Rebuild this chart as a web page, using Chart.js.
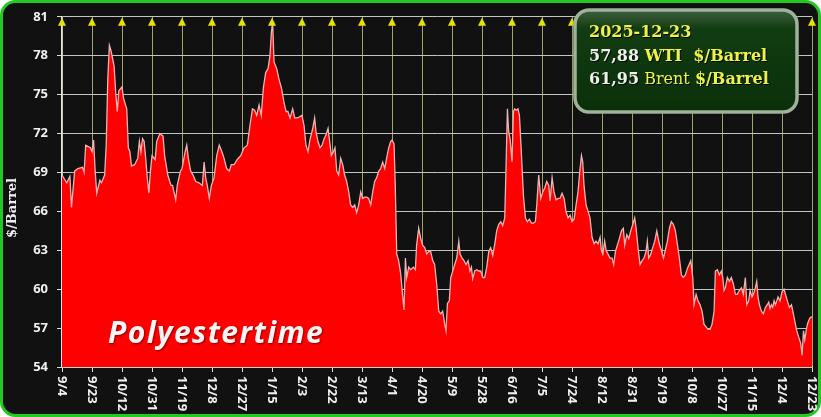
<!DOCTYPE html>
<html>
<head>
<meta charset="utf-8">
<script src="https://cdn.jsdelivr.net/npm/chart.js@4.4.1/dist/chart.umd.min.js"></script>
<style>
  html,body{margin:0;padding:0;background:#fff;}
  canvas{display:block;}
</style>
</head>
<body>
<canvas id="oil" width="821" height="417"></canvas>
<script>
/* WTI crude, $/barrel. x = days since 2024-09-04 */
const dayIdx = [
  0,2,3,5,6,8,10,13,14,15,
  18,19,20,21,22,24,25,27,28,29,
  30,31,33,34,35,36,38,39,41,42,
  43,44,46,48,49,50,51,52,53,54,
  55,56,57,59,60,62,64,65,67,69,
  70,72,73,75,76,78,
  79,80,81.5,83,84.7,86.8,88.9,90,91,92,
  93.3,94.6,96.3,98,99.6,101.3,102.6,104.3,106,107.2,
  109,111,113.2,115.3,117.4,119,120.6,122,123.3,124.8,
  126.2,127.5,129,130.5,131.7,132.6,133.4,134.3,136,137.4,
  139,140.6,141.9,143.1,144.4,146.1,147.4,149,150.7,152,
  153.3,154.5,155.8,157,
  158.8,160,160.9,162.1,163.4,164.7,166,167.2,168.5,169.3,
  170.6,171.9,172.9,174,175.2,176.5,177.8,179,180.3,181.6,
  182.8,184.1,185.4,186.6,187.9,189.2,190.4,191.7,193,194.2,
  195.5,196.8,198,199.3,200.6,201.8,203.1,204.4,205.6,206.9,
  208.2,209,210.3,211.1,212,213.2,214.5,215.8,216.6,217.5,
  218.3,219.6,220.8,222.5,223.8,224.6,225.9,227.2,228.4,229.7,
  231,232.2,233.5,234.8,236,237.3,
  238.6,239.9,241.1,242.4,243.2,244.1,245.3,246.2,247.5,248.7,
  250,251.3,252.1,253.4,254.6,255.9,257.2,258.4,259.3,260.1,
  261.4,262.7,263.9,265.2,266.5,267.7,269,270.3,271.5,272.8,
  274.1,275.3,276.6,277.9,279.1,280.4,281.2,282.1,282.9,283.8,
  285,285.9,286.7,287.6,288.8,289.7,290.9,292.2,293.5,294.7,
  296,297.3,298.5,299.8,300.7,301.9,303.2,304.5,305.7,307,
  308.3,309.1,310.4,311.6,312.9,314.2,315.4,316.7,
  318,319.2,320.5,321.8,323,324.3,325.6,326.8,328.1,329,
  329.8,330.6,331.9,333.2,334.4,335.7,337,338.2,339.5,340.8,
  341.6,342.5,343.7,344.6,345.8,347.1,348.4,349.4,350.5,351.7,
  353,354.3,355.5,356.4,357.7,358.9,360.2,361.5,362.7,363.6,
  364.8,366.1,367.4,368.6,369.9,370.7,371.6,372.9,374.1,375.4,
  376.7,377.5,378.3,379.6,380.9,382.1,383.4,384.7,385.9,387.2,
  388.5,389.7,391,392.3,393.5,394.8,396.1,
  398.2,399.5,400.3,401.6,402.8,404.1,405.4,406.6,407.9,409.2,
  410.4,411.7,413,413.8,415.1,416.3,417.6,418.5,419.3,420.1,
  421.4,422.7,423.9,425.2,426.5,427.7,429,430.3,431.5,432.8,
  433.7,434.9,435.8,437,437.9,439.1,440,440.8,441.7,443,
  444.2,445.5,446.7,447.6,448.4,449.3,450.1,451,451.8,452.7,
  453.5,454.8,456,457.3,458.2,459.4,460.7,462,463.2,464.5,
  465.3,466.6,467.9,468.7,469.6,470.4,471.3,472.1,473,473.8,
  475
];
const wti = [
  68.8,68.4,68.2,68.7,66.3,69.1,69.3,69.4,69.0,71.1,
  70.9,70.6,71.5,69.1,67.4,68.4,68.2,68.8,71.1,76.2,
  78.8,78.4,77.2,75.2,73.7,75.3,75.6,74.7,73.9,70.9,
  70.6,69.5,69.6,70.1,71.4,70.6,71.6,71.4,70.1,68.6,
  67.4,69.1,70.3,70.0,71.4,72.0,71.8,70.3,68.8,68.0,
  68.0,66.9,68.0,69.1,69.3,70.6,
  71.1,70.1,69.1,68.8,68.3,68.2,68.0,69.8,68.6,68.0,
  67.0,68.0,68.6,70.3,71.1,70.6,70.1,69.3,69.1,69.6,
  69.6,70.0,70.3,70.9,71.1,72.6,73.9,73.8,73.4,74.2,
  73.4,75.5,76.7,77.0,78.0,79.8,80.6,77.5,77.0,76.2,
  75.5,74.4,73.7,73.7,73.2,73.9,73.2,73.2,73.3,73.4,
  72.6,71.1,70.6,71.5,
  72.4,73.2,72.1,71.4,70.9,71.1,71.6,71.9,72.4,71.6,
  70.3,70.6,70.9,69.1,68.8,70.1,69.6,68.8,68.3,67.5,
  66.5,66.3,66.5,65.9,66.5,67.5,67.0,67.1,67.1,67.0,
  66.5,67.5,68.3,68.6,69.1,69.3,69.8,69.3,70.1,70.9,
  71.4,71.5,71.2,67.8,62.7,62.2,61.2,59.4,58.4,62.4,
  60.9,61.7,61.5,61.7,61.5,63.4,64.7,63.9,63.4,63.2,
  62.7,62.9,62.9,62.2,61.9,60.4,
  58.3,58.1,58.3,57.3,56.8,58.9,59.1,60.9,61.4,61.9,
  62.4,63.7,62.7,62.4,62.2,61.9,62.2,61.4,61.7,60.8,
  61.4,61.5,61.4,61.4,60.9,60.9,61.7,62.9,63.2,62.6,
  63.5,64.5,65.0,65.2,64.9,65.5,69.3,73.9,72.1,71.6,
  69.8,73.7,73.9,73.8,73.9,73.4,70.6,67.3,65.5,65.2,
  65.4,65.1,65.1,65.2,66.5,68.8,67.0,67.5,67.8,68.3,
  68.0,66.8,68.6,67.5,66.9,67.0,67.0,67.4,
  67.0,66.0,65.5,65.7,65.2,65.4,66.5,67.5,69.3,70.3,
  69.8,68.0,66.5,66.0,65.5,64.0,63.5,63.7,63.5,64.0,
  63.0,62.7,63.7,63.0,62.7,62.4,62.4,61.9,62.9,63.4,
  63.9,64.5,64.7,63.4,64.2,63.9,64.5,65.0,65.5,64.7,
  63.2,61.9,62.2,62.4,62.9,63.7,62.4,62.7,63.2,63.7,
  64.5,64.0,63.5,63.0,62.4,63.0,63.7,64.7,65.2,65.0,
  64.5,63.5,62.4,61.1,60.9,61.1,61.6,
  62.2,60.9,58.8,59.6,59.1,58.8,58.3,57.3,57.1,56.9,
  56.9,57.3,58.3,61.4,61.5,61.1,61.4,60.9,59.9,60.1,
  60.9,60.6,60.9,60.4,59.6,59.6,59.9,60.1,59.6,60.9,
  58.8,59.1,59.9,59.4,59.6,60.1,60.6,59.4,58.8,58.3,
  58.1,58.6,58.8,59.0,58.5,58.8,58.6,59.1,58.8,59.1,
  59.4,59.1,59.8,60.0,59.6,59.1,58.6,58.8,58.1,57.3,
  56.8,56.3,55.8,54.9,56.8,56.1,56.8,57.3,57.6,57.8,
  57.88
];

const tickDays = [0,19,38,57,76,95,114,133,152,171,190,209,228,247,266,285,304,323,342,361,380,399,418,437,456,475];
const tickLabels = ['9/4','9/23','10/12','10/31','11/19','12/8','12/27','1/15','2/3','2/22','3/13','4/1','4/20','5/9','5/28','6/16','7/5','7/24','8/12','8/31','9/19','10/8','10/27','11/15','12/4','12/23'];
const yMin = 54, yMax = 81, yStep = 3;

const boxDate = '2025-12-23';
const wtiLast = '57,88';
const brentLast = '61,95';
const yTitle = '$/Barrel';
const watermark = 'Polyestertime';

const SERIF = '"DejaVu Serif", serif';

/* frame, triangles, rotated x labels, watermark, info box */
const deco = {
  id: 'deco',
  beforeDraw(chart){
    const c = chart.ctx, W = chart.width, H = chart.height;
    c.save();
    c.fillStyle = '#fff';
    c.fillRect(0, 0, W, H);
    c.beginPath();
    c.roundRect(1.5, 1.5, W-3, H-3, 14);
    c.fillStyle = '#111';
    c.fill();
    c.lineWidth = 3;
    c.strokeStyle = '#23c823';
    c.stroke();
    c.restore();
  },
  afterDraw(chart){
    const c = chart.ctx, xs = chart.scales.x;
    const {top, bottom} = chart.chartArea;
    c.save();

    // yellow markers on each vertical grid line
    c.fillStyle = '#e4e400';
    tickDays.forEach(d => {
      const x = xs.getPixelForValue(d);
      c.beginPath();
      c.moveTo(x, top+1);
      c.lineTo(x+4, top+9);
      c.lineTo(x-4, top+9);
      c.closePath();
      c.fill();
    });

    // x labels, reading top to bottom
    c.fillStyle = '#f0f0f0';
    c.font = 'bold 13px "Open Sans"';
    c.textAlign = 'left';
    c.textBaseline = 'middle';
    tickDays.forEach((d,i) => {
      const x = xs.getPixelForValue(d);
      c.save();
      c.translate(x, bottom+9);
      c.rotate(Math.PI/2);
      c.fillText(tickLabels[i], 0, 0);
      c.restore();
    });

    // y title
    c.save();
    c.translate(13, 208);
    c.rotate(-Math.PI/2);
    c.font = 'bold 13px ' + SERIF;
    c.textAlign = 'center';
    c.textBaseline = 'middle';
    c.fillStyle = '#f0f0f0';
    c.fillText(yTitle, 0, 0);
    c.restore();

    // watermark
    c.save();
    c.font = 'italic bold 30px "Open Sans"';
    c.letterSpacing = '1.4px';
    c.textAlign = 'left';
    c.textBaseline = 'alphabetic';
    c.shadowColor = 'rgba(90,0,0,0.7)';
    c.shadowOffsetX = 1; c.shadowOffsetY = 1; c.shadowBlur = 2;
    c.fillStyle = '#fff4f4';
    c.fillText(watermark, 108, 343);
    c.restore();

    // info box
    const bx = 575, by = 10, bw = 222, bh = 102;
    c.save();
    c.shadowColor = 'rgba(0,0,0,0.6)';
    c.shadowBlur = 4;
    c.beginPath();
    c.roundRect(bx, by, bw, bh, 14);
    const g = c.createLinearGradient(0, by, 0, by+bh);
    g.addColorStop(0, '#3f5f3f');
    g.addColorStop(0.18, '#123c12');
    g.addColorStop(1, '#0a300a');
    c.fillStyle = g;
    c.fill();
    c.shadowBlur = 0;
    c.lineWidth = 3.5;
    c.strokeStyle = '#9fb29a';
    c.stroke();
    c.restore();

    c.save();
    c.textAlign = 'left';
    c.textBaseline = 'alphabetic';
    c.shadowColor = 'rgba(0,0,0,0.9)';
    c.shadowOffsetX = 1; c.shadowOffsetY = 1;
    const bold = 'bold 16px ' + SERIF, reg = '16px ' + SERIF;
    const yel = '#eef24a', wht = '#eef0ea';
    const run = (parts, x, y) => {
      parts.forEach(([txt, font, col]) => {
        c.font = font; c.fillStyle = col;
        c.fillText(txt, x, y);
        x += c.measureText(txt).width;
      });
    };
    run([[boxDate, bold, yel]], 589, 37);
    run([[wtiLast, bold, wht], [' WTI  $/Barrel', bold, yel]], 589, 61);
    run([[brentLast, bold, wht], [' Brent ', reg, yel], ['$/Barrel', bold, yel]], 589, 84);
    c.restore();

    c.restore();
  }
};

new Chart(document.getElementById('oil'), {
  type: 'line',
  data: {
    datasets: [{
      label: 'WTI',
      data: dayIdx.map((d,i) => ({x: d, y: wti[i]})),
      fill: 'start',
      backgroundColor: '#ff0000',
      borderColor: '#ecb4b4',
      borderWidth: 1.3,
      pointRadius: 0,
      tension: 0
    }]
  },
  options: {
    responsive: false,
    animation: false,
    layout: { padding: { left: 0, right: 9, top: 15, bottom: 45 } },
    plugins: { legend: { display: false }, tooltip: { enabled: false } },
    scales: {
      x: {
        type: 'linear', min: 0, max: 475,
        afterBuildTicks: s => { s.ticks = tickDays.map(v => ({value: v})); },
        afterFit: s => { s.height = 5; },
        ticks: { display: false },
        grid: { color: '#a4a466', lineWidth: 1, tickLength: 5, tickColor: '#dcdcdc' },
        border: { color: '#e6e6e6', width: 1.5 }
      },
      y: {
        min: yMin, max: yMax,
        afterFit: s => { s.width = 62; },
        ticks: { stepSize: yStep, color: '#f0f0f0', padding: 9,
                 font: { family: 'Open Sans', weight: 'bold', size: 13 } },
        grid: { color: '#c4c4c4', lineWidth: 1, tickLength: 5, tickColor: '#dcdcdc' },
        border: { color: '#e6e6e6', width: 1.5 }
      }
    }
  },
  plugins: [deco]
});
</script>
</body>
</html>
